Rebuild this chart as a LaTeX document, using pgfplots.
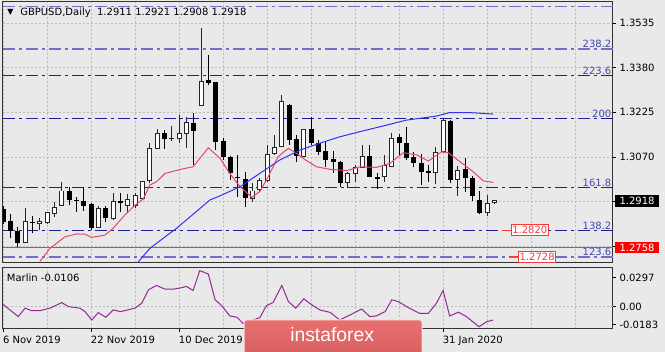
\documentclass[border=0pt]{standalone}
\usepackage{pgfplots}
\pgfplotsset{compat=1.18}
\usepackage{pgfplotstable}
\usepackage{fontspec}
\setmainfont{DejaVu Sans}
\newfontfamily\wmfont{Liberation Sans}

\definecolor{bg}{RGB}{233,233,233}
\definecolor{navy}{RGB}{30,30,150}
\definecolor{lightnavy}{RGB}{112,112,200}
\definecolor{fiblab}{RGB}{70,70,180}
\definecolor{maRed}{RGB}{232,72,100}
\definecolor{maBlue}{RGB}{50,50,240}
\definecolor{marlin}{RGB}{150,40,150}
\definecolor{lvlred}{RGB}{245,60,60}
\definecolor{wmtop}{RGB}{232,112,112}
\definecolor{wmbot}{RGB}{214,94,94}
\definecolor{gridc}{RGB}{188,188,188}

% rising candles: bar index, open, high, low, close
\pgfplotstableread{
i O H L C
3 1.2773 1.2892 1.2771 1.2846
5 1.2838 1.2857 1.2817 1.2846
6 1.2842 1.2880 1.2838 1.2877
7 1.2875 1.2915 1.2863 1.2895
8 1.2903 1.2984 1.2900 1.2952
13 1.2826 1.2900 1.2823 1.2892
15 1.2855 1.2946 1.2851 1.2915
17 1.2903 1.2942 1.2875 1.2923
18 1.2900 1.2946 1.2892 1.2935
19 1.2927 1.2988 1.2921 1.2984
20 1.2987 1.3118 1.2979 1.3100
21 1.3100 1.3166 1.3097 1.3152
23 1.3133 1.3178 1.3127 1.3135
24 1.3135 1.3216 1.3118 1.3150
25 1.3150 1.3208 1.3100 1.3189
27 1.3250 1.3517 1.3248 1.3331
34 1.2927 1.2979 1.2915 1.2952
35 1.2956 1.2996 1.2950 1.2988
36 1.2988 1.3112 1.2984 1.3080
37 1.3083 1.3146 1.3077 1.3104
38 1.3108 1.3285 1.3106 1.3262
41 1.3073 1.3166 1.3071 1.3164
47 1.2981 1.3017 1.2961 1.3013
48 1.3013 1.3042 1.2984 1.3034
49 1.3034 1.3112 1.3031 1.3073
52 1.3004 1.3077 1.2984 1.3042
53 1.3036 1.3152 1.3035 1.3135
59 1.3016 1.3104 1.2976 1.3085
60 1.3088 1.3204 1.3085 1.3198
62 1.2993 1.3039 1.2936 1.3023
66 1.2876 1.2938 1.2864 1.2909
67 1.2911 1.2921 1.2908 1.2918
}\bulls

% falling candles
\pgfplotstableread{
i O H L C
0 1.2889 1.2900 1.2838 1.2846
1 1.2848 1.2872 1.2788 1.2814
2 1.2814 1.2828 1.2759 1.2773
4 1.2846 1.2866 1.2805 1.2840
9 1.2952 1.2967 1.2903 1.2921
10 1.2921 1.2932 1.2880 1.2917
11 1.2918 1.2967 1.2884 1.2900
12 1.2906 1.2910 1.2817 1.2823
14 1.2894 1.2900 1.2846 1.2857
16 1.2918 1.2946 1.2880 1.2909
22 1.3152 1.3164 1.3098 1.3131
26 1.3187 1.3224 1.3042 1.3161
28 1.3337 1.3424 1.3320 1.3326
29 1.3329 1.3332 1.3094 1.3123
30 1.3127 1.3135 1.3060 1.3071
31 1.3071 1.3074 1.2990 1.3013
32 1.3002 1.3077 1.2932 1.2996
33 1.2993 1.3019 1.2898 1.2927
39 1.3250 1.3254 1.3112 1.3129
40 1.3131 1.3146 1.3054 1.3073
42 1.3166 1.3210 1.3112 1.3118
43 1.3118 1.3129 1.3077 1.3088
44 1.3091 1.3123 1.3034 1.3060
45 1.3062 1.3092 1.3016 1.3054
46 1.3054 1.3056 1.2967 1.2981
50 1.3073 1.3112 1.2999 1.3002
51 1.3002 1.3013 1.2959 1.2995
54 1.3138 1.3150 1.3077 1.3118
55 1.3120 1.3175 1.3060 1.3066
56 1.3069 1.3088 1.3036 1.3050
57 1.3050 1.3080 1.2973 1.3019
58 1.3023 1.3042 1.2984 1.3013
61 1.3196 1.3200 1.2981 1.2990
63 1.3027 1.3066 1.2950 1.2996
64 1.2996 1.3004 1.2917 1.2935
65 1.2921 1.2953 1.2871 1.2875
}\bears

\pgfplotstableread{
i v
5.0 1.2708
6.37 1.2753
8.42 1.2793
10.0 1.2803
11.15 1.2802
12.06 1.2791
13.87 1.2799
15.0 1.2823
16.6 1.2869
17.97 1.2903
19.1 1.2924
20.0 1.2973
20.9 1.2984
22.06 1.3013
24.34 1.3028
25.9 1.3036
27.97 1.3102
29.56 1.3066
30.9 1.3013
32.3 1.2967
33.9 1.2930
35.0 1.2950
36.15 1.3002
37.5 1.3071
38.9 1.3100
40.0 1.3083
41.2 1.3060
42.75 1.3036
44.57 1.3027
46.85 1.3023
48.66 1.3036
50.94 1.3034
52.76 1.3048
54.6 1.3085
56.4 1.3077
58.0 1.3056
59.8 1.3088
60.7 1.3085
62.3 1.3054
64.1 1.3019
65.5 1.2987
66.85 1.2982
}\maRedTab

\pgfplotstableread{
i v
17.7 1.2685
20.0 1.2753
23.66 1.2823
28.2 1.2921
29.56 1.2935
32.3 1.2967
35.0 1.3013
37.75 1.3060
40.5 1.3094
43.2 1.3118
45.9 1.3140
48.66 1.3158
51.4 1.3175
55.0 1.3198
59.1 1.3212
60.9 1.3224
63.7 1.3224
66.85 1.3219
}\maBlueTab

\pgfplotstableread{
i v
-0.08 0.0025
2.05 -0.0102
2.96 -0.0016
3.87 -0.0041
5.0 -0.0041
6.37 -0.0016
7.97 0.0041
8.87 0.0000
10.46 -0.0016
11.15 -0.0051
12.06 -0.0136
12.96 -0.0061
14.0 -0.0109
15.0 -0.0034
16.0 -0.0051
17.97 -0.0016
18.9 0.0035
19.8 0.0171
20.9 0.0215
22.06 0.0178
23.2 0.0178
24.1 0.0189
25.0 0.0205
25.9 0.0164
26.8 0.0366
27.97 0.0332
28.9 0.0069
29.8 0.0010
30.9 -0.0095
31.9 -0.0109
32.7 -0.0170
34.1 -0.0136
35.0 -0.0113
35.9 0.0010
36.8 0.0041
38.0 0.0215
38.9 0.0051
39.9 -0.0016
41.0 0.0079
42.1 0.0017
43.2 -0.0034
44.6 -0.0059
45.9 -0.0136
47.5 -0.0078
48.9 -0.0024
50.0 -0.0102
50.9 -0.0095
52.1 -0.0051
53.0 0.0069
53.9 0.0051
55.25 -0.0010
56.8 -0.0068
58.0 -0.0068
59.1 0.0035
60.0 0.0164
60.9 -0.0095
62.1 -0.0057
63.2 -0.0102
64.9 -0.0205
65.95 -0.0154
66.85 -0.0136
}\marlinTab

\tikzset{fibdash/.style={dash pattern=on 9pt off 3pt on 2.25pt off 3pt}}
\pgfplotsset{
  candlepart/.style={only marks, mark=*, mark size=0pt,
    mark options={draw=none, fill=none},
    error bars/.cd, y dir=plus, y explicit, error mark=none,
    error bar style={draw=#1, line cap=butt}},
}

\begin{document}
\begin{tikzpicture}[x=0.75pt,y=-0.75pt,font=\fontsize{7.5}{9}\selectfont]
\useasboundingbox (0,0) rectangle (665,352);
\fill[bg] (0,0) rectangle (665,352);

\begin{axis}[
  at={(2.025pt,-1.5pt)}, anchor=north west,
  scale only axis, width=457.7pt, height=195.75pt,
  xmin=-0.08, xmax=83.18, ymin=1.27022, ymax=1.36079,
  clip mode=individual,
  axis line style={draw=black!80, line width=0.75pt},
  xtick={0,6,...,78}, xticklabels={}, xmajorgrids,
  xtick style={draw=none},
  ytick={1.2760,1.2915,1.3070,1.3225,1.3380,1.3535},
  yticklabels={,,1.3070,1.3225,1.3380,1.3535},
  scaled y ticks=false,
  ymajorgrids,
  ytick pos=right, yticklabel pos=right,
  tick align=outside, major tick length=2.25pt,
  ytick style={draw=black, line width=0.75pt},
  grid style={draw=gridc, dash pattern=on 1.5pt off 1.5pt, line width=0.75pt},
  yticklabel style={font=\fontsize{7.5}{9}\selectfont, anchor=west, inner sep=0pt, xshift=2.5pt},
]
% Fibonacci levels
\addplot[lightnavy, line width=1.1pt, fibdash] coordinates {(-0.08,1.3593) (83.18,1.3593)};
\addplot[lightnavy, line width=1.1pt, fibdash] coordinates {(-0.08,1.3445) (83.18,1.3445)};
\addplot[navy, line width=0.75pt, fibdash] coordinates {(-0.08,1.3353) (83.18,1.3353)};
\addplot[navy, line width=0.75pt, fibdash] coordinates {(-0.08,1.3204) (83.18,1.3204)};
\addplot[navy, line width=0.75pt, fibdash] coordinates {(-0.08,1.2963) (83.18,1.2963)};
\addplot[navy, line width=0.75pt, fibdash] coordinates {(-0.08,1.2815) (83.18,1.2815)};
\addplot[lightnavy, line width=1.1pt, fibdash] coordinates {(-0.08,1.2723) (83.18,1.2723)};
% support level
\addplot[lvlred, line width=1.1pt] coordinates {(-0.08,1.2756) (83.18,1.2756)};

% wicks
\addplot[candlepart=black!85, error bar style={line width=0.75pt}]
  table[x=i, y=L, y error plus expr=\thisrow{H}-\thisrow{L}] {\bulls};
\addplot[candlepart=black, error bar style={line width=0.75pt}]
  table[x=i, y=L, y error plus expr=\thisrow{H}-\thisrow{L}] {\bears};
% falling bodies
\addplot[candlepart=black, error bar style={line width=3.7pt}]
  table[x=i, y=C, y error plus expr={max(\thisrow{O}-\thisrow{C},0.0003)}] {\bears};
% rising bodies: outline then white inside
\addplot[candlepart=black!85, error bar style={line width=3.7pt}]
  table[x=i, y expr=\thisrow{O}-0.00017, y error plus expr=\thisrow{C}-\thisrow{O}+0.00034] {\bulls};
\addplot[candlepart=white, error bar style={line width=2.2pt}]
  table[x=i, y expr=\thisrow{O}+0.00017, y error plus expr={max(\thisrow{C}-\thisrow{O}-0.00034,0)}] {\bulls};

% moving averages
\addplot[maRed, line width=0.75pt] table[x=i, y=v] {\maRedTab};
\addplot[maBlue, line width=0.75pt] table[x=i, y=v] {\maBlueTab};

% target marks
\addplot[lvlred, line width=0.75pt] coordinates {(68.0,1.2816) (69.2,1.2816)};
\addplot[lvlred, line width=0.75pt] coordinates {(69.1,1.2723) (70.2,1.2723)};

% level labels
\begin{scope}[every node/.style={anchor=south east, inner sep=0.6pt, text=fiblab}]
\node at (axis cs:83.1,1.3445) {238.2};
\node at (axis cs:83.1,1.3353) {223.6};
\node at (axis cs:83.1,1.3204) {200};
\node at (axis cs:83.1,1.2963) {161.8};
\node at (axis cs:83.1,1.2815) {138.2};
\node at (axis cs:83.1,1.2723) {123.6};
\end{scope}
\node[anchor=west, draw=lvlred, fill=white, text=lvlred, line width=0.75pt, inner xsep=1pt, inner ysep=1.2pt] at (axis cs:69.2,1.2816) {1.2820};
\node[anchor=west, draw=lvlred, fill=white, text=lvlred, line width=0.75pt, inner xsep=1pt, inner ysep=1.2pt] at (axis cs:70.2,1.2723) {1.2728};
\node[anchor=west, fill=black, text=white, inner xsep=3.5pt, inner ysep=1.5pt, xshift=1.2pt] at (axis cs:83.18,1.2918) {1.2918};
\node[anchor=west, fill=red, text=white, inner xsep=3.5pt, inner ysep=1.5pt, xshift=1.2pt] at (axis cs:83.18,1.2756) {1.2758};
\end{axis}

\begin{axis}[
  at={(2.025pt,-201pt)}, anchor=north west,
  scale only axis, width=457.7pt, height=45.75pt,
  xmin=-0.08, xmax=83.18, ymin=-0.0228, ymax=0.0393,
  clip mode=individual,
  axis line style={draw=black!80, line width=0.75pt},
  xtick={0,12,24,60},
  xticklabels={6 Nov 2019,22 Nov 2019,10 Dec 2019,31 Jan 2020},
  minor xtick={6,18,30,36,42,48,54,66,72,78},
  xmajorgrids, xminorgrids,
  xtick pos=left, ytick pos=right, yticklabel pos=right,
  tick align=outside, major tick length=2.25pt, minor tick length=0pt,
  tick style={draw=black, line width=0.75pt},
  scaled y ticks=false,
  ytick={-0.0183,0.0297}, yticklabels={-0.0183,0.0297},
  extra y ticks={0}, extra y tick labels={0.00},
  extra y tick style={grid=major},
  grid style={draw=gridc, dash pattern=on 1.5pt off 1.5pt, line width=0.75pt},
  minor grid style={draw=gridc, dash pattern=on 1.5pt off 1.5pt, line width=0.75pt},
  yticklabel style={font=\fontsize{7.5}{9}\selectfont, anchor=west, inner sep=0pt, xshift=2.5pt},
  xticklabel style={font=\fontsize{7.5}{9}\selectfont, anchor=north west, inner sep=0pt, xshift=-0.4pt, yshift=-2.5pt},
]
\addplot[marlin, line width=0.75pt] table[x=i, y=v] {\marlinTab};
\node[anchor=north west, inner sep=0pt, xshift=3pt, yshift=-4.5pt] at (rel axis cs:0,1) {Marlin -0.0106};
\end{axis}

% header
\node[anchor=west, inner sep=0pt, font=\fontsize{6}{7}\selectfont] at (7,12) {▼};
\node[anchor=west, inner sep=0pt] at (20,12.5) {GBPUSD,Daily\ \ 1.2911 1.2921 1.2908 1.2918};

% watermark
\shade[top color=wmtop, bottom color=wmbot, rounded corners=1.5pt] (244,320) rectangle (422,358);
\draw[white!80!wmtop, line width=0.75pt, rounded corners=1.5pt] (244,320) rectangle (422,358);
\node[anchor=base west, text=white, inner sep=0pt, font=\wmfont\fontsize{14.5}{16}\selectfont] at (290,342) {instaforex};
\end{tikzpicture}
\end{document}
